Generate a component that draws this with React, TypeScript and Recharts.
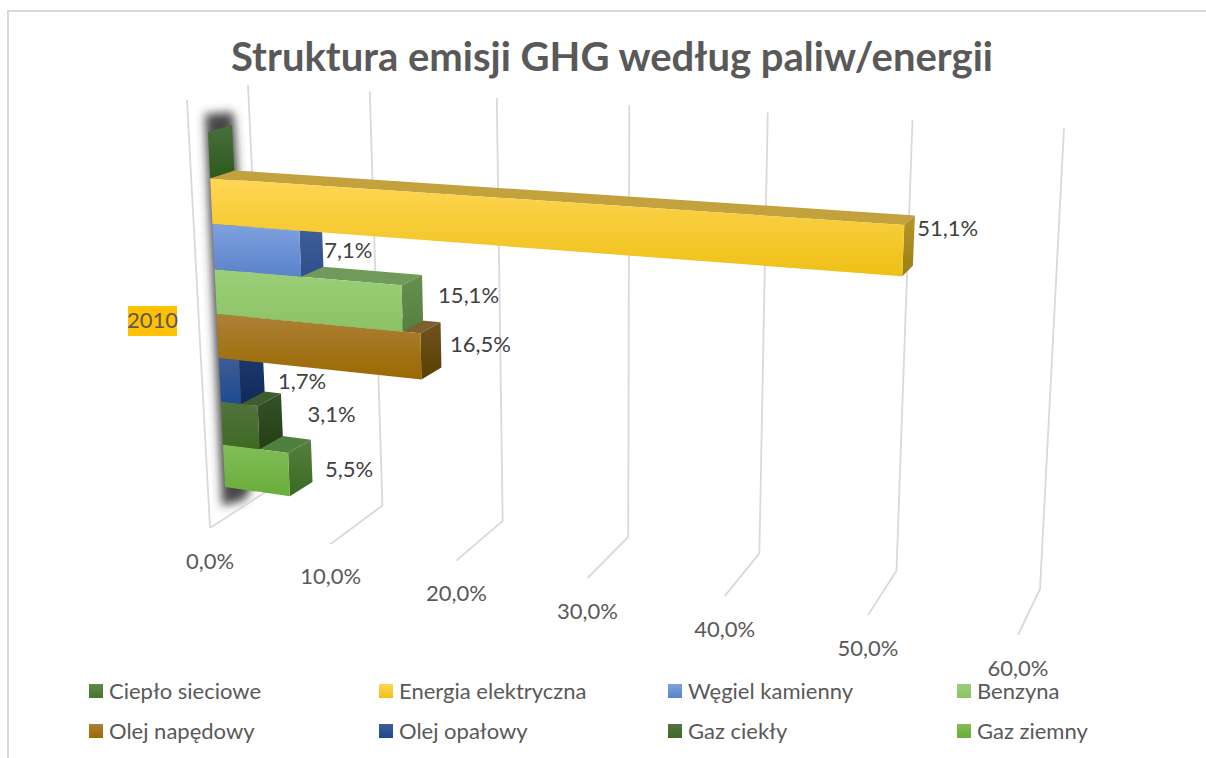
import React from "react";
import { BarChart, Bar, XAxis, YAxis, Legend, LabelList, CartesianGrid } from "recharts";

const categories = ["2010"];
const seriesNames = [
  "Ciepło sieciowe",
  "Energia elektryczna",
  "Węgiel kamienny",
  "Benzyna",
  "Olej napędowy",
  "Olej opałowy",
  "Gaz ciekły",
  "Gaz ziemny",
];
const seriesValues = [0, 51.1, 7.1, 15.1, 16.5, 1.7, 3.1, 5.5];
const xTicks = [0, 10, 20, 30, 40, 50, 60];

// front gradient top, front gradient bottom, top face, end face top, end face bottom
const faceColors = [
  ["#5f8a4a", "#48752c", "#3e5c30", "#4a6f3c", "#2c5a1c"],
  ["#ffd655", "#eec016", "#c3a13d", "#b8952c", "#97800f"],
  ["#7fa1de", "#5a83cb", "#4a6aa8", "#40609c", "#2f4f8c"],
  ["#9ccf78", "#8cc265", "#6f9a5a", "#66904f", "#557f41"],
  ["#ad8038", "#9a6a00", "#7e5f2e", "#6f5220", "#5a4000"],
  ["#3e5c96", "#1f4a92", "#1d3a70", "#1f3a6e", "#102a5c"],
  ["#52733f", "#3f6a22", "#3e5c30", "#35512a", "#233f12"],
  ["#80bd58", "#6aad3a", "#4f8040", "#55803c", "#3a6a22"],
];
// Excel left the data labels in slightly odd places
const labelNudge = [
  [0, 0],
  [14, -23],
  [24, -1],
  [36, -10],
  [29, -10],
  [38, 2],
  [49, -12],
  [36, -5],
];
const legendCols = [89, 379, 668, 957];
const legendRows = [684, 724];

const W = 1206;
const H = 758;
// axes take 1px each, they do not draw at all with a zero size
const margin = { left: 99, right: 100, top: 19, bottom: 18 };
const plotLeft = margin.left + 1;
const plotW = W - plotLeft - margin.right;
const plotH = H - margin.top - margin.bottom - 1;

type Pt = [number, number];
const lerp = (a: Pt, b: Pt, k: number): Pt => [a[0] + (b[0] - a[0]) * k, a[1] + (b[1] - a[1]) * k];

// perspective squeeze along the value axis
const squeeze = (t: number) => t / (t + 1.14 * (1 - t));
const plane = (tl: Pt, tr: Pt, bl: Pt, br: Pt) => (s: number, u: number) =>
  lerp(lerp(tl, tr, s), lerp(bl, br, s), u);
// upper bars look a little taller than lower ones near the wall
const bend = (s: number, u: number) => u + 0.05 * (1 - s) * u * (1 - u);

const flatFront = plane([208, 132], [1045, 182], [225, 487], [1022, 600]);
const flatBack = plane([232, 125], [1053, 173], [249, 473], [1030, 584]);
const barFront = (s: number, u: number) => flatFront(s, bend(s, u));
const barBack = (s: number, u: number) => flatBack(s, bend(s, u));
const floorFront = (s: number) => lerp([210, 528], [1018, 635], s);

const pts = (list: Pt[]) => list.map((p) => p.join(",")).join(" ");
const toS = (px: number) => squeeze((px - plotLeft) / plotW);
const toU = (py: number) => 1 - (py - margin.top) / plotH;
const pct = (v: number) => v.toFixed(1).replace(".", ",") + "%";

function bar3d(index: number) {
  const c = faceColors[index];
  return (props: any) => {
    const { x, y, width, height } = props;
    const s0 = toS(x);
    const s1 = toS(x + width);
    // flat chart runs upside down, first Bar ends up at the bottom
    const uTop = toU(y + height);
    const uBot = toU(y);
    return (
      <g>
        <polygon
          points={pts([barFront(s0, uTop), barFront(s1, uTop), barBack(s1, uTop), barBack(s0, uTop)])}
          fill={c[2]}
        />
        <polygon
          points={pts([barFront(s1, uTop), barBack(s1, uTop), barBack(s1, uBot), barFront(s1, uBot)])}
          fill={`url(#end${index})`}
        />
        {width > 0 && (
          <polygon
            points={pts([barFront(s0, uTop), barFront(s1, uTop), barFront(s1, uBot), barFront(s0, uBot)])}
            fill={`url(#front${index})`}
          />
        )}
      </g>
    );
  };
}

function barLabel(index: number) {
  return (props: any) => {
    const { x, y, width, height, value } = props;
    if (!value) return null;
    const s1 = toS(x + width);
    const p = flatFront(s1, toU(y + height / 2));
    return (
      <text
        x={p[0] + labelNudge[index][0]}
        y={p[1] + labelNudge[index][1]}
        dominantBaseline="central"
        fontFamily="Lato"
        fontSize={22}
        fill="#404040"
      >
        {pct(value)}
      </text>
    );
  };
}

// grid is drawn under the bars, axis ticks are not
function GridLine(props: any) {
  const s = toS(props.x1);
  const top = lerp([248, 85], [1064, 128], s);
  const corner = lerp([267, 491], [1040, 589], s);
  const front = floorFront(s);
  return (
    <g key={props.key}>
      {s < 0.001 && (
        <g>
          <polyline points={pts([[187, 100], front])} fill="none" stroke="#d9d9d9" strokeWidth={1.8} />
          <polygon
            points={pts([[205, 114], [233, 112], [235, 130], [256, 478], [245, 500], [222, 506]])}
            fill="#333"
            fillOpacity={0.9}
            filter="url(#wallShadow)"
          />
        </g>
      )}
      <polyline points={pts([top, corner, front])} fill="none" stroke="#d9d9d9" strokeWidth={1.8} />
    </g>
  );
}

function ValueTick(props: any) {
  const front = floorFront(toS(props.x));
  return (
    <text
      x={front[0]}
      y={front[1] + 32}
      textAnchor="middle"
      dominantBaseline="central"
      fontFamily="Lato"
      fontSize={22}
      fill="#595959"
    >
      {pct(props.payload.value)}
    </text>
  );
}

function YearTick(props: any) {
  return (
    <g>
      <rect x={128} y={306} width={49} height={30} fill="#ffc000" />
      <text x={152.5} y={319.5} textAnchor="middle" dominantBaseline="central" fontFamily="Lato" fontSize={22} fill="#595959">
        {props.payload.value}
      </text>
    </g>
  );
}

function LegendBox(props: any) {
  const items = [...props.payload].sort(
    (a: any, b: any) => seriesNames.indexOf(a.value) - seriesNames.indexOf(b.value)
  );
  return (
    <div style={{ position: "absolute", left: 0, top: 0 }}>
      {items.map((it: any, i: number) => {
        const c = faceColors[seriesNames.indexOf(it.value)];
        const left = legendCols[i % 4];
        const top = legendRows[Math.floor(i / 4)];
        return (
          <div key={it.value} style={{ position: "absolute", left, top, whiteSpace: "nowrap" }}>
            <div
              style={{
                position: "absolute",
                left: 0,
                top: 0,
                width: 14,
                height: 14,
                background: `linear-gradient(${c[0]}, ${c[1]})`,
              }}
            />
            <div
              style={{
                position: "absolute",
                left: 20,
                top: -3,
                fontFamily: "Lato",
                fontSize: 22,
                lineHeight: "20px",
                color: "#595959",
              }}
            >
              {it.value}
            </div>
          </div>
        );
      })}
    </div>
  );
}

const row: any = { year: categories[0] };
seriesNames.forEach((n, i) => (row[n] = seriesValues[i]));
const chartData = [row];
// bottom bar is painted first so the upper bars cover its top face
const paintOrder = seriesNames.map((_, i) => seriesNames.length - 1 - i);

export default function App() {
  return (
    <div style={{ position: "absolute", left: 0, top: 0, width: W, height: H, background: "#fff", overflow: "hidden" }}>
      <div
        style={{
          position: "absolute",
          left: 7,
          top: 10,
          width: W,
          height: H,
          borderLeft: "2px solid #d9d9d9",
          borderTop: "2px solid #d9d9d9",
        }}
      />
      <div
        style={{
          position: "absolute",
          left: 0,
          top: 31,
          width: 1224,
          textAlign: "center",
          fontFamily: "Lato",
          fontWeight: 700,
          fontSize: 40,
          lineHeight: "50px",
          color: "#595959",
        }}
      >
        Struktura emisji GHG według paliw/energii
      </div>
      <div style={{ position: "absolute", left: 0, top: 0 }}>
        <BarChart
          width={W}
          height={H}
          data={chartData}
          layout="vertical"
          margin={margin}
          barCategoryGap={0}
          barGap={0}
        >
          <defs>
            <filter id="wallShadow" x="-80%" y="-10%" width="260%" height="120%">
              <feGaussianBlur stdDeviation="5" />
            </filter>
            {faceColors.map((c, i) => (
              <React.Fragment key={i}>
                <linearGradient id={`front${i}`} x1="0" y1="0" x2="0" y2="1">
                  <stop offset="0%" stopColor={c[0]} />
                  <stop offset="100%" stopColor={c[1]} />
                </linearGradient>
                <linearGradient id={`end${i}`} x1="0" y1="0" x2="0" y2="1">
                  <stop offset="0%" stopColor={c[3]} />
                  <stop offset="100%" stopColor={c[4]} />
                </linearGradient>
              </React.Fragment>
            ))}
          </defs>
          <CartesianGrid horizontal={false} vertical={GridLine} syncWithTicks />
          <XAxis
            type="number"
            domain={[0, 60]}
            ticks={xTicks}
            interval={0}
            height={1}
            axisLine={false}
            tickLine={false}
            tick={ValueTick}
          />
          <YAxis
            type="category"
            dataKey="year"
            width={1}
            axisLine={false}
            tickLine={false}
            tick={YearTick}
          />
          <Legend
            content={LegendBox}
            wrapperStyle={{ position: "absolute", left: 0, top: 0, width: 0, height: 0 }}
          />
          {paintOrder.map((i) => (
            <Bar
              key={seriesNames[i]}
              dataKey={seriesNames[i]}
              fill={faceColors[i][0]}
              shape={bar3d(i)}
              isAnimationActive={false}
            >
              <LabelList content={barLabel(i)} />
            </Bar>
          ))}
        </BarChart>
      </div>
    </div>
  );
}
